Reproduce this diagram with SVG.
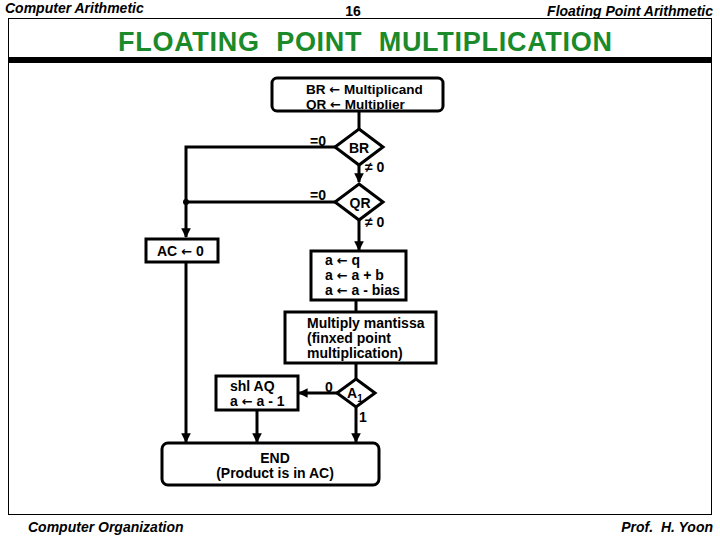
<svg xmlns="http://www.w3.org/2000/svg" width="720" height="540" viewBox="0 0 720 540">
<style>
text{font-family:"Liberation Sans",Arial,sans-serif;font-weight:bold;fill:#000}
.t{font-size:14px}
.s{font-size:13.5px}
.hd{font-size:14px;font-style:italic}
.ar{font-family:"DejaVu Sans",sans-serif;font-size:13px}
.box{fill:#fff;stroke:#000;stroke-width:3}
.ln{fill:none;stroke:#000;stroke-width:3}
</style>
<defs>
<marker id="ah" viewBox="0 0 10 10" refX="9" refY="5" markerWidth="3.2" markerHeight="3.2" orient="auto" markerUnits="strokeWidth">
<path d="M0,0 L10,5 L0,10 z" fill="#000"/>
</marker>
</defs>
<rect width="720" height="540" fill="#fff"/>
<g id="frame">
<rect x="8.5" y="18.5" width="703" height="496" fill="none" stroke="#000" stroke-width="1"/>
<rect x="8" y="57" width="704" height="6" fill="#000"/>
<text class="hd" x="5" y="13">Computer Arithmetic</text>
<text x="353" y="16" font-size="14" text-anchor="middle">16</text>
<text class="hd" x="713" y="16" text-anchor="end">Floating Point Arithmetic</text>
<text x="365" y="51" font-size="27" fill="#1a8a2a" style="fill:#1a8a2a" text-anchor="middle" textLength="494" lengthAdjust="spacing" xml:space="preserve">FLOATING  POINT  MULTIPLICATION</text>
<text class="hd" x="28" y="532">Computer Organization</text>
<text class="hd" x="713" y="532" text-anchor="end" xml:space="preserve">Prof.  H. Yoon</text>
</g>
<g id="connectors">
<line class="ln" x1="359" y1="110" x2="359" y2="129"/>
<line class="ln" x1="359" y1="165" x2="359" y2="182" marker-end="url(#ah)"/>
<polyline class="ln" points="335,147 186,147 186,237" marker-end="url(#ah)"/>
<line class="ln" x1="336" y1="202" x2="186" y2="202"/>
<circle cx="186" cy="202" r="3" fill="#000"/>
<line class="ln" x1="359" y1="220" x2="359" y2="250" marker-end="url(#ah)"/>
<line class="ln" x1="356" y1="300" x2="356" y2="312"/>
<line class="ln" x1="356" y1="363" x2="356" y2="379"/>
<line class="ln" x1="337" y1="393" x2="299" y2="393" marker-end="url(#ah)"/>
<line class="ln" x1="356" y1="407" x2="356" y2="442" marker-end="url(#ah)"/>
<line class="ln" x1="257" y1="410" x2="257" y2="442" marker-end="url(#ah)"/>
<line class="ln" x1="186" y1="261" x2="186" y2="442" marker-end="url(#ah)"/>
<text class="t" x="310" y="146">=0</text>
<text class="t" x="365" y="172">≠ 0</text>
<text class="t" x="310" y="200">=0</text>
<text class="t" x="365" y="227">≠ 0</text>
<text class="t" x="325" y="392">0</text>
<text class="t" x="359" y="422">1</text>
</g>
<g id="start">
<rect class="box" x="272" y="78" width="171" height="33" rx="5"/>
<text class="s" x="306" y="94">BR <tspan class="ar">←</tspan> Multiplicand</text>
<text class="s" x="306" y="108.5">QR <tspan class="ar">←</tspan> Multiplier</text>
</g>
<g id="br">
<polygon class="box" points="359,129 383,147 359,165 335,147"/>
<text class="t" x="359" y="153" text-anchor="middle">BR</text>
</g>
<g id="qr">
<polygon class="box" points="359,184 383,202 359,220 335,202"/>
<text class="t" x="360" y="208" text-anchor="middle">QR</text>
</g>
<g id="ac">
<rect class="box" x="146" y="239" width="72" height="23"/>
<text class="t" x="157" y="256">AC <tspan class="ar">←</tspan> 0</text>
</g>
<g id="exp">
<rect class="box" x="311" y="251" width="95" height="49"/>
<text class="t" x="325" y="265">a <tspan class="ar">←</tspan> q</text>
<text class="t" x="325" y="280">a <tspan class="ar">←</tspan> a + b</text>
<text class="t" x="325" y="295">a <tspan class="ar">←</tspan> a - bias</text>
</g>
<g id="mult">
<rect class="box" x="285" y="312" width="151" height="51"/>
<text class="t" x="307" y="328">Multiply mantissa</text>
<text class="t" x="307" y="343">(finxed point</text>
<text class="t" x="307" y="358">multiplication)</text>
</g>
<g id="a1">
<polygon class="box" points="356,379 375,393 356,407 337,393"/>
<text class="t" x="347" y="398">A<tspan font-size="10" dy="4">1</tspan></text>
</g>
<g id="shl">
<rect class="box" x="216" y="376" width="82" height="34"/>
<text class="t" x="230" y="391">shl AQ</text>
<text class="t" x="230" y="406">a <tspan class="ar">←</tspan> a - 1</text>
</g>
<g id="end">
<rect class="box" x="162" y="443" width="217" height="42" rx="6"/>
<text class="t" x="275" y="463" text-anchor="middle">END</text>
<text class="t" x="275" y="478" text-anchor="middle">(Product is in AC)</text>
</g>
</svg>
